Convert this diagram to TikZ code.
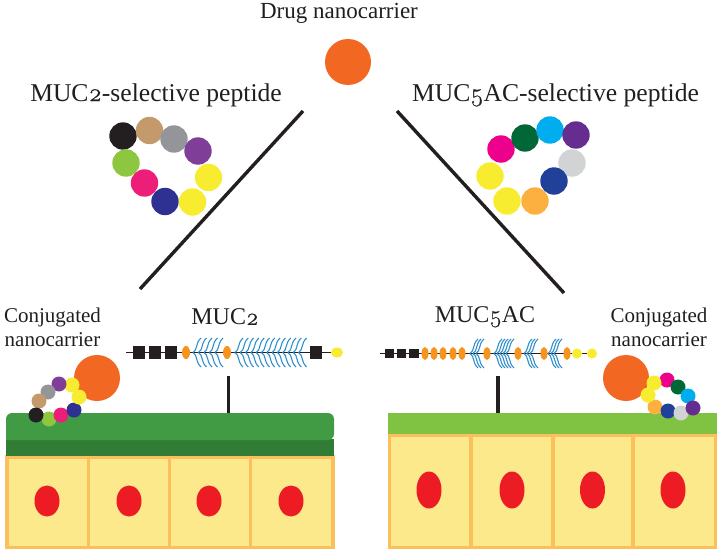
\documentclass[tikz,border=0pt]{standalone}
\usepackage{fontspec}
\setmainfont{Liberation Serif}
\newfontfamily\oldnum{Latin Modern Roman}[Numbers=OldStyle,FakeBold=0.5]
\definecolor{carrier}{HTML}{F26722}
\definecolor{inkblack}{HTML}{231F20}
\definecolor{tanbead}{HTML}{C49A6C}
\definecolor{graybead}{HTML}{939598}
\definecolor{purplebead}{HTML}{7F3F98}
\definecolor{yellowbead}{HTML}{F7EC2F}
\definecolor{navybead}{HTML}{2E3192}
\definecolor{pinkbead}{HTML}{ED1E79}
\definecolor{limebead}{HTML}{8DC63F}
\definecolor{magentabead}{HTML}{EC008C}
\definecolor{forestbead}{HTML}{006837}
\definecolor{cyanbead}{HTML}{00AEEF}
\definecolor{violetbead}{HTML}{662D91}
\definecolor{silverbead}{HTML}{D1D3D4}
\definecolor{bluebead}{HTML}{21409A}
\definecolor{amberbead}{HTML}{FBB040}
\definecolor{mucusmid}{HTML}{419B45}
\definecolor{mucusdark}{HTML}{327D35}
\definecolor{mucuslight}{HTML}{80C241}
\definecolor{cellfill}{HTML}{FCE98C}
\definecolor{celledge}{HTML}{FBBF5B}
\definecolor{nucleusred}{HTML}{ED1C24}
\definecolor{domainorange}{HTML}{F7941E}
\definecolor{glycan}{HTML}{2F8FCC}
\tikzset{
  heading text/.style={font=\fontsize{25.6}{30}\selectfont, text=black!88, inner sep=0pt},
  title text/.style={font=\fontsize{23}{27}\selectfont, text=black!88, inner sep=0pt},
  mucin text/.style={font=\fontsize{24}{28}\selectfont, text=black!88, inner sep=0pt},
  small text/.style={font=\fontsize{21}{24}\selectfont, text=black!88, inner sep=0pt, align=center},
  rod/.style={draw=inkblack, line width=3.4pt},
  axis line/.style={draw=inkblack, line width=1.3pt},
  vd/.style={fill=inkblack, minimum size=12.3pt, inner sep=0pt, rectangle},
  cell box/.style={draw=celledge, line width=3.2pt, fill=cellfill},
  strand/.style={draw=glycan, line width=1.1pt},
}
% filled bead at a position, radius and colour
\newcommand{\bead}[4]{\fill[#4] (#1,#2) circle[radius=#3];}
% chevron-shaped glycan fringe between two x positions on an axis
\newcommand{\fringe}[4]{%
  \foreach \xx in {#1,#4,...,#2}{
    \draw[strand] (\xx,#3) .. controls (\xx+5,#3-3) and (\xx+2,#3-9) .. (\xx+8,#3-14.5);
    \draw[strand] (\xx,#3) .. controls (\xx+5,#3+3) and (\xx+2,#3+9) .. (\xx+8,#3+14.5);
  }}
\begin{document}
\begin{tikzpicture}[x=1pt,y=-1pt]
\useasboundingbox (0,0) rectangle (721,554);

% --- titles ---
\node[title text] (title) at (339,13) {Drug nanocarrier};
\node[heading text] (leftpep) at (156,95) {MUC{\oldnum 2}-selective peptide};
\node[heading text] (rightpep) at (555.5,95) {MUC{\oldnum 5}AC-selective peptide};

% --- free carrier and branching lines ---
\node[circle, fill=carrier, minimum size=46pt, inner sep=0pt] (drug) at (348,62) {};
\coordinate (la) at (303,111); \coordinate (lb) at (140,289);
\coordinate (ra) at (397,111); \coordinate (rb) at (564,293);
\draw[rod] (la) -- (lb);
\draw[rod] (ra) -- (rb);

% --- free peptide loops ---
\bead{123}{136}{13.7}{inkblack}
\bead{149.5}{130.5}{13.7}{tanbead}
\bead{174}{139}{13.7}{graybead}
\bead{198}{151}{13.7}{purplebead}
\bead{126}{163}{13.7}{limebead}
\bead{144.5}{183}{13.7}{pinkbead}
\bead{165}{201.5}{13.7}{navybead}
\bead{208.5}{177.5}{13.7}{yellowbead}
\bead{192.5}{202}{13.7}{yellowbead}

\bead{501}{149}{13.7}{magentabead}
\bead{525}{138}{13.7}{forestbead}
\bead{550}{130}{13.7}{cyanbead}
\bead{576}{135}{13.7}{violetbead}
\bead{572}{163}{13.7}{silverbead}
\bead{554}{181}{13.7}{bluebead}
\bead{535}{201}{13.7}{amberbead}
\bead{507}{201}{13.7}{yellowbead}
\bead{490}{176}{13.7}{yellowbead}

% --- left epithelium ---
\foreach \cx/\cw in {7/81.5,88.5/81,169.5/81,250.5/82.5}{
  \draw[cell box] (\cx,457) rectangle (\cx+\cw,547.5);
}
\foreach \nx in {47,129,209,291}{
  \fill[nucleusred] (\nx,501) ellipse[x radius=12.5, y radius=15.5];
}
\fill[mucusdark] (6,439) rectangle (334,456);
\fill[mucusmid, rounded corners=6pt] (6,440) -- (6,413) -- (334,413) -- (334,440) [sharp corners] -- cycle;

% --- right epithelium ---
\foreach \cx/\cw in {389.5/81.5,471/82,553/80,633/82.5}{
  \draw[cell box] (\cx,435.5) rectangle (\cx+\cw,547.5);
}
\foreach \nx in {429,512,592.5,673}{
  \fill[nucleusred] (\nx,490) ellipse[x radius=12.5, y radius=18.5];
}
\fill[mucuslight] (388,413) rectangle (717,434);

% --- membrane tethers ---
\coordinate (lt) at (228.5,376); \coordinate (lm) at (228.5,413);
\coordinate (rt) at (498,376); \coordinate (rm) at (498,413);
\draw[rod] (lt) -- (lm);
\draw[rod] (rt) -- (rm);

% --- conjugated carrier on MUC2 ---
\fill[carrier] (97,378) circle[radius=23];
\bead{72}{385}{7.5}{yellowbead}
\bead{59}{384}{7.5}{purplebead}
\bead{48}{392}{7.5}{graybead}
\bead{39}{401}{7.5}{tanbead}
\bead{49}{419}{7.5}{limebead}
\bead{61}{415}{7.5}{pinkbead}
\bead{74}{410}{7.5}{navybead}
\bead{79}{397}{7.5}{yellowbead}
\bead{36}{415}{7.5}{inkblack}

% --- conjugated carrier on MUC5AC ---
\fill[carrier] (626,378) circle[radius=23];
\bead{667}{380}{7.5}{magentabead}
\bead{678}{387}{7.5}{forestbead}
\bead{688}{396}{7.5}{cyanbead}
\bead{655}{407}{7.5}{amberbead}
\bead{668}{411}{7.5}{bluebead}
\bead{681}{413}{7.5}{silverbead}
\bead{693}{408}{7.5}{violetbead}
\bead{654}{383}{7.5}{yellowbead}
\bead{648}{395}{7.5}{yellowbead}

% --- captions over the mucins ---
\node[mucin text] (muc2) at (225,317) {MUC{\oldnum 2}};
\node[mucin text] (muc5) at (485,317) {MUC{\oldnum 5}AC};
\node[small text] (conjl) at (52.5,327) {Conjugated\\nanocarrier};
\node[small text] (conjr) at (659,327) {Conjugated\\nanocarrier};

% --- MUC2 strand ---
\coordinate (m2a) at (126,352.5); \coordinate (m2b) at (337,352.5);
\draw[axis line] (m2a) -- (m2b);
\fringe{193}{216}{352.5}{198.5}
\fringe{235}{303}{352.5}{240.3}
\foreach \sx in {139,155,171,316}{
  \node[vd] at (\sx,352.5) {};
}
\foreach \ex in {186,227}{
  \fill[domainorange] (\ex,352.5) ellipse[x radius=4, y radius=6.5];
}
\fill[yellowbead] (337,352.5) ellipse[x radius=6, y radius=5];

% --- MUC5AC strand ---
\coordinate (m5a) at (380,353.5); \coordinate (m5b) at (592,353.5);
\draw[axis line] (m5a) -- (m5b);
\fringe{470}{477}{353.5}{473}
\fringe{494}{507}{353.5}{497}
\fringe{524}{532}{353.5}{527}
\fringe{548}{556}{353.5}{551}
\foreach \sx in {389.3,401.3,414}{
  \node[vd, minimum size=9.5pt] at (\sx,353.5) {};
}
\foreach \ex in {425,434,443,453,462,487,518,544,567}{
  \fill[domainorange] (\ex,353.5) ellipse[x radius=3.5, y radius=6.5];
}
\fill[yellowbead] (577,353.5) circle[radius=5];
\fill[yellowbead] (592,353.5) circle[radius=5];
\end{tikzpicture}
\end{document}
